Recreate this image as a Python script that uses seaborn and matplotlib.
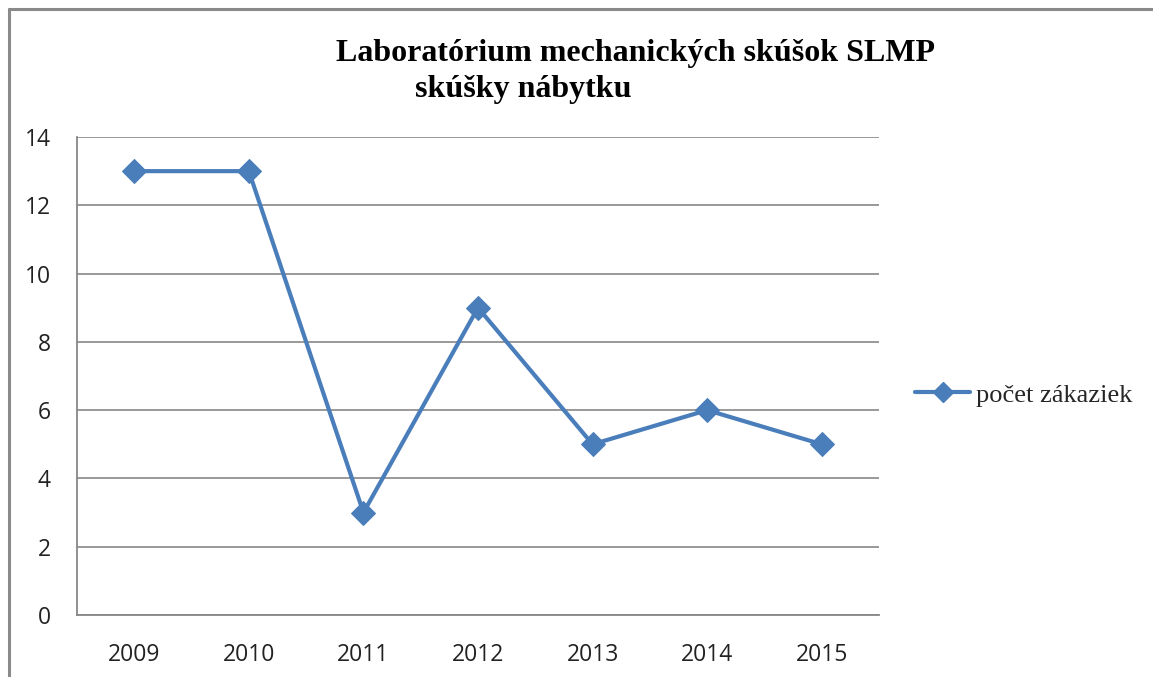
import matplotlib
matplotlib.use("Agg")
import matplotlib.pyplot as plt
import seaborn as sns
import pandas as pd
from matplotlib.lines import Line2D

years = ["2009", "2010", "2011", "2012", "2013", "2014", "2015"]
counts = [13, 13, 3, 9, 5, 6, 5]
series_name = "počet zákaziek"
title_line1 = "Laboratórium mechanických skúšok SLMP"
title_line2 = "skúšky nábytku"
y_ticks = [0, 2, 4, 6, 8, 10, 12, 14]

df = pd.DataFrame({"rok": years, "pocet": counts})

sns.set_style("white")
plt.rcParams["font.family"] = ["Open Sans", "DejaVu Sans"]

W, H = 1153, 677
fig = plt.figure(figsize=(W / 100, H / 100), dpi=100)
ax = fig.add_axes([77 / W, 1 - 615 / H, (879 - 77) / W, (615 - 137) / H])

blue = "#4A7EBB"
grid_c = "#878787"

sns.lineplot(data=df, x="rok", y="pocet", ax=ax, color=blue, linewidth=3.0,
             marker="D", markersize=12, markeredgecolor=blue, sort=False,
             label=series_name, legend=False)

ax.set_xlim(-0.5, len(years) - 0.5)
ax.set_ylim(0, 14)
ax.set_yticks(y_ticks)
ax.set_yticklabels([str(v) for v in y_ticks])
ax.set_xlabel("")
ax.set_ylabel("")

# major ticks at category boundaries, labels at centers
ax.set_xticks([i - 0.5 for i in range(len(years) + 1)])
ax.set_xticklabels([""] * (len(years) + 1))
ax.set_xticks(range(len(years)), minor=True)
ax.set_xticklabels(years, minor=True)
ax.tick_params(axis="x", which="major", direction="out", length=7, width=1.3, color=grid_c)
ax.tick_params(axis="x", which="minor", length=0, pad=20, labelsize=16.5, labelcolor="#222222")
ax.tick_params(axis="y", direction="out", length=7, width=1.3, color=grid_c, pad=12,
               labelsize=16.5, labelcolor="#222222")

ax.grid(axis="y", color=grid_c, linewidth=1.2)
ax.grid(axis="x", visible=False)
ax.set_axisbelow(True)
for s in ["top", "right"]:
    ax.spines[s].set_visible(False)
for s in ["left", "bottom"]:
    ax.spines[s].set_color(grid_c)
    ax.spines[s].set_linewidth(1.3)

# title
fig.text(636 / W, 1 - 54 / H, title_line1, ha="center", va="center",
         fontfamily="Liberation Serif", fontweight="bold", fontsize=23, color="black")
fig.text(415 / W, 1 - 90 / H, title_line2, ha="left", va="center",
         fontfamily="Liberation Serif", fontweight="bold", fontsize=23, color="black")

# legend
handle = Line2D([], [], color=blue, linewidth=3.0, marker="D", markersize=10)
leg = fig.legend([handle], [series_name], loc="center left",
                 bbox_to_anchor=(915 / W, 1 - 395 / H), frameon=False,
                 handlelength=2.1, handletextpad=0.2, borderpad=0, borderaxespad=0,
                 prop={"family": "Liberation Serif", "size": 19})

# outer chart border (left and top visible)
fig.add_artist(Line2D([8.5 / W, 8.5 / W], [0, 1 - 9 / H], color="#8a8a8a", linewidth=2.2))
fig.add_artist(Line2D([8.5 / W, 1], [1 - 9 / H, 1 - 9 / H], color="#8a8a8a", linewidth=2.2))

fig.savefig("out.png", dpi=100, facecolor="white")
